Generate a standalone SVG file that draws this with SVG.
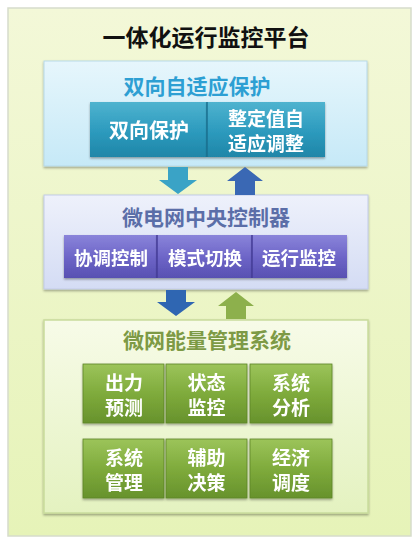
<svg xmlns="http://www.w3.org/2000/svg" width="418" height="543" viewBox="0 0 418 543">
<defs>
<linearGradient id="gOuter" x1="0" y1="0" x2="0" y2="1">
<stop offset="0" stop-color="#f3f8d8"/>
<stop offset="1" stop-color="#e6f3b8"/>
</linearGradient>
<linearGradient id="gBlue" x1="0" y1="0" x2="0" y2="1">
<stop offset="0" stop-color="#e6f6fc"/>
<stop offset="1" stop-color="#c6e9f7"/>
</linearGradient>
<linearGradient id="gLav" x1="0" y1="0" x2="0" y2="1">
<stop offset="0" stop-color="#eef1fb"/>
<stop offset="1" stop-color="#d4dcf4"/>
</linearGradient>
<linearGradient id="gGreenBox" x1="0" y1="0" x2="0" y2="1">
<stop offset="0" stop-color="#f7fbe8"/>
<stop offset="1" stop-color="#e4f2c0"/>
</linearGradient>
<linearGradient id="gTeal" x1="0" y1="0" x2="0" y2="1">
<stop offset="0" stop-color="#4fb3cf"/>
<stop offset="0.5" stop-color="#2e9cbf"/>
<stop offset="1" stop-color="#1f86a8"/>
</linearGradient>
<linearGradient id="gPurple" x1="0" y1="0" x2="0" y2="1">
<stop offset="0" stop-color="#8a84da"/>
<stop offset="0.5" stop-color="#6e66c8"/>
<stop offset="1" stop-color="#5850b2"/>
</linearGradient>
<linearGradient id="gGreen" x1="0" y1="0" x2="0" y2="1">
<stop offset="0" stop-color="#9cc45a"/>
<stop offset="0.5" stop-color="#7fab3c"/>
<stop offset="1" stop-color="#67922c"/>
</linearGradient>
<filter id="sh" x="-10%" y="-10%" width="120%" height="130%">
<feDropShadow dx="0" dy="1.5" stdDeviation="1.2" flood-color="#000" flood-opacity="0.35"/>
</filter>
</defs>
<style>
.cjk{font-family:"Noto Sans CJK SC","Noto Sans CJK TC",sans-serif;font-weight:bold;text-anchor:middle}
.btn{fill:#ffffff;font-size:19px}
.pbtn{fill:#ffffff;font-size:18.5px}
</style>
<rect width="418" height="543" fill="#ffffff"/>
<g id="platform">
<rect x="8" y="8" width="403" height="528" fill="url(#gOuter)" stroke="#d6dccb" stroke-width="1.5"/>
<text class="cjk" x="206" y="46" font-size="23" fill="#111111">一体化运行监控平台</text>
</g>
<g id="protection">
<rect x="44" y="61" width="323" height="105" fill="url(#gBlue)" stroke="#b7d9e8" stroke-width="1" filter="url(#sh)"/>
<text class="cjk" x="197" y="94" font-size="21" fill="#2d9fd3">双向自适应保护</text>
<g id="bidir" filter="url(#sh)">
<rect x="90" y="102" width="117" height="55" fill="url(#gTeal)"/>
<text class="cjk btn" x="149" y="138" style="font-size:20px">双向保护</text>
</g>
<g id="setting" filter="url(#sh)">
<rect x="207" y="102" width="118" height="55" fill="url(#gTeal)"/>
<text class="cjk btn" x="266" y="126">整定值自</text>
<text class="cjk btn" x="266" y="151">适应调整</text>
</g>
<line x1="207" y1="102" x2="207" y2="157" stroke="#1a7090" stroke-width="1.5"/>
</g>
<g id="controller">
<rect x="44" y="195" width="324" height="94" fill="url(#gLav)" stroke="#c2cbe8" stroke-width="1" filter="url(#sh)"/>
<text class="cjk" x="206" y="225" font-size="21" fill="#5b6ea8">微电网中央控制器</text>
<g id="coord" filter="url(#sh)">
<rect x="64" y="235" width="93" height="43" fill="url(#gPurple)"/>
<text class="cjk pbtn" x="111" y="265">协调控制</text>
</g>
<g id="mode" filter="url(#sh)">
<rect x="157" y="235" width="95" height="43" fill="url(#gPurple)"/>
<text class="cjk pbtn" x="205" y="265">模式切换</text>
</g>
<g id="monitor" filter="url(#sh)">
<rect x="252" y="235" width="95" height="43" fill="url(#gPurple)"/>
<text class="cjk pbtn" x="299" y="265">运行监控</text>
</g>
<line x1="157" y1="235" x2="157" y2="278" stroke="#443c98" stroke-width="1.5"/>
<line x1="252" y1="235" x2="252" y2="278" stroke="#443c98" stroke-width="1.5"/>
</g>
<g id="ems">
<rect x="44" y="320" width="324" height="193" fill="url(#gGreenBox)" stroke="#c9dc9c" stroke-width="1.5" filter="url(#sh)"/>
<text class="cjk" x="207" y="348" font-size="21" fill="#7d9a45">微网能量管理系统</text>
<g id="forecast" filter="url(#sh)">
<rect x="83" y="364" width="81" height="59" fill="url(#gGreen)" stroke="#5d8526" stroke-width="0.8"/>
<text class="cjk btn" x="124" y="390">出力</text>
<text class="cjk btn" x="124" y="415">预测</text>
</g>
<g id="status" filter="url(#sh)">
<rect x="166" y="364" width="81" height="59" fill="url(#gGreen)" stroke="#5d8526" stroke-width="0.8"/>
<text class="cjk btn" x="206.5" y="390">状态</text>
<text class="cjk btn" x="206.5" y="415">监控</text>
</g>
<g id="analysis" filter="url(#sh)">
<rect x="250" y="364" width="82" height="59" fill="url(#gGreen)" stroke="#5d8526" stroke-width="0.8"/>
<text class="cjk btn" x="291" y="390">系统</text>
<text class="cjk btn" x="291" y="415">分析</text>
</g>
<g id="sysmgmt" filter="url(#sh)">
<rect x="83" y="439" width="81" height="59" fill="url(#gGreen)" stroke="#5d8526" stroke-width="0.8"/>
<text class="cjk btn" x="124" y="465">系统</text>
<text class="cjk btn" x="124" y="490">管理</text>
</g>
<g id="decision" filter="url(#sh)">
<rect x="166" y="439" width="81" height="59" fill="url(#gGreen)" stroke="#5d8526" stroke-width="0.8"/>
<text class="cjk btn" x="206.5" y="465">辅助</text>
<text class="cjk btn" x="206.5" y="490">决策</text>
</g>
<g id="dispatch" filter="url(#sh)">
<rect x="250" y="439" width="82" height="59" fill="url(#gGreen)" stroke="#5d8526" stroke-width="0.8"/>
<text class="cjk btn" x="291" y="465">经济</text>
<text class="cjk btn" x="291" y="490">调度</text>
</g>
</g>
<g id="connectors">
<polygon points="168,167 188,167 188,180 197,180 178,194 159,180 168,180" fill="#3aa3c6"/>
<polygon points="245,167 263,181 255,181 255,195 235,195 235,181 227,181" fill="#3a68b4"/>
<polygon points="166,290 186,290 186,302 195,302 176,316 157,302 166,302" fill="#2f66b2"/>
<polygon points="236,292 254,306 246,306 246,319 226,319 226,306 218,306" fill="#8db04c"/>
</g>
</svg>
